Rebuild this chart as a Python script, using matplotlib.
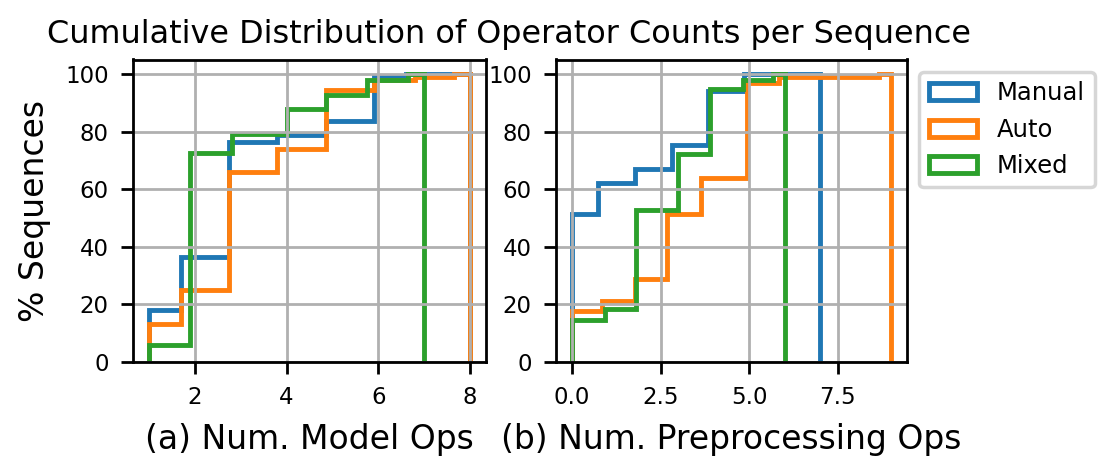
import matplotlib
matplotlib.use('Agg')
import matplotlib.pyplot as plt
from matplotlib.patches import Patch

# cumulative % of sequences (bin edges + step heights)
series_names = ['Manual', 'Auto', 'Mixed']
colors = ['#1f77b4', '#ff7f0e', '#2ca02c']

# (a) model ops
model_edges = [
    [1.0, 1.7, 2.75, 3.8, 4.85, 5.9, 6.6, 8.0],
    [1.0, 1.7, 2.75, 3.8, 4.85, 5.9, 6.8, 7.65, 8.0],
    [1.0, 1.9, 2.8, 4.0, 4.87, 5.75, 6.65, 7.0],
]
model_cdf = [
    [18.0, 36.3, 76.5, 78.8, 83.8, 99.2, 100.0],
    [13.3, 24.9, 65.8, 73.8, 94.4, 98.0, 98.8, 100.0],
    [5.8, 72.6, 79.1, 87.7, 92.7, 98.0, 100.0],
]

# (b) preprocessing ops
prep_edges = [
    [0.0, 0.73, 1.78, 2.81, 3.84, 4.86, 7.0],
    [0.0, 0.84, 1.78, 2.69, 3.63, 4.93, 5.85, 8.65, 9.0],
    [0.0, 0.94, 1.82, 2.99, 3.88, 4.82, 5.66, 6.0],
]
prep_cdf = [
    [51.2, 62.0, 66.9, 75.3, 94.2, 100.0],
    [17.6, 21.2, 28.7, 51.2, 63.7, 97.0, 98.8, 100.0],
    [14.5, 18.3, 52.7, 72.2, 94.7, 98.0, 100.0],
]

model_xticks = [2, 4, 6, 8]
prep_xticks = [0.0, 2.5, 5.0, 7.5]
yticks = [0, 20, 40, 60, 80, 100]

W, H, DPI = 1118, 473, 250
fig = plt.figure(figsize=(W / DPI, H / DPI), dpi=DPI)
bottom = 1 - 362 / H
height = (362 - 59.5) / H
ax1 = fig.add_axes([133 / W, bottom, (486 - 133) / W, height])
ax2 = fig.add_axes([556 / W, bottom, (907 - 556) / W, height])

for ax, edges, cdf, xt in [(ax1, model_edges, model_cdf, model_xticks),
                           (ax2, prep_edges, prep_cdf, prep_xticks)]:
    for name, c, e, v in zip(series_names, colors, edges, cdf):
        ax.stairs(v, e, baseline=0, fill=False, color=c, linewidth=1.4)
    ax.grid(True)
    ax.tick_params(labelsize=6.6)
    ax.set_yticks(yticks)
    ax.set_xticks(xt)

ax1.set_xlabel('(a) Num. Model Ops', fontsize=9.5)
ax2.set_xlabel('(b) Num. Preprocessing Ops', fontsize=9.5)
ax1.set_ylabel('% Sequences', fontsize=9.5)

# hist-style legend entries (outlined boxes)
handles = [Patch(facecolor='none', edgecolor=c, linewidth=1.4, label=n)
           for n, c in zip(series_names, colors)]
ax2.legend(handles=handles, loc='upper left', bbox_to_anchor=(1, 1), fontsize=7)

fig.text(508.7 / W, 1 - 43.3 / H, 'Cumulative Distribution of Operator Counts per Sequence',
         ha='center', va='baseline', fontsize=9.2)

fig.savefig('out.png', dpi=DPI)
